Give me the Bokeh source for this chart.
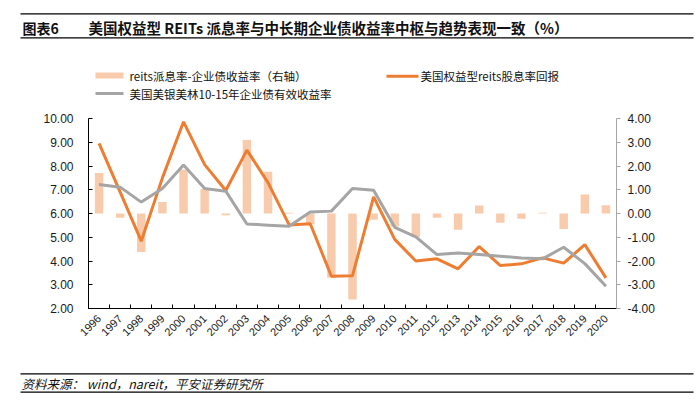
import math
from bokeh.plotting import figure
from bokeh.layouts import column
from bokeh.models import Range1d, LinearAxis, FixedTicker, NumeralTickFormatter, Label
from bokeh.embed import file_html
from bokeh.resources import INLINE

# ---------------- data ----------------
years = [str(y) for y in range(1996, 2021)]
reit_yield = [8.95, 6.90, 4.84, 7.50, 9.86, 8.06, 6.97, 8.67, 7.30, 5.52,
              5.57, 3.36, 3.38, 6.70, 4.91, 4.00, 4.09, 3.67, 4.61, 3.81,
              3.88, 4.13, 3.91, 4.69, 3.29]
corp_yield = [7.22, 7.11, 6.48, 7.05, 8.04, 7.05, 6.94, 5.56, 5.51, 5.46,
              6.06, 6.10, 7.05, 6.98, 5.42, 5.02, 4.27, 4.34, 4.27, 4.20,
              4.13, 4.09, 4.58, 3.89, 2.94]
spread = [1.71, -0.18, -1.62, 0.48, 1.85, 1.03, -0.07, 3.09, 1.76, 0.03,
          -0.45, -2.70, -3.62, -0.26, -0.55, -1.00, -0.18, -0.68, 0.34, -0.39,
          -0.22, 0.03, -0.65, 0.80, 0.35]
left_ticks = [2, 3, 4, 5, 6, 7, 8, 9, 10]
right_ticks = [-4, -3, -2, -1, 0, 1, 2, 3, 4]

title_tag = "图表6"
title_text = "美国权益型 REITs 派息率与中长期企业债收益率中枢与趋势表现一致（%）"
legend_labels = ["reits派息率-企业债收益率（右轴）", "美国权益型reits股息率回报",
                 "美国美银美林10-15年企业债有效收益率"]
source_text = "资料来源：  wind，nareit，平安证券研究所"

# ---------------- style ----------------
ORANGE = "#ED7D31"
BAR = "#F8CBAD"
GRAY = "#A5A5A5"
CJK = "Noto Sans CJK SC"
NUM = "Liberation Sans"
W = 700


def deco_fig(h):
    f = figure(width=W, height=h, output_backend="svg", toolbar_location=None,
               x_range=Range1d(0, W), y_range=Range1d(h, 0),
               x_axis_type=None, y_axis_type=None, min_border=0,
               frame_align=False)
    f.outline_line_color = None
    f.xgrid.visible = False
    f.ygrid.visible = False
    f.background_fill_color = "white"
    f.border_fill_color = "white"
    return f


def put(f, x, y, text, size, style="normal", font=CJK, color="#111111"):
    f.add_layout(Label(x=x, y=y, text=text, text_font=font, text_font_size=size,
                       text_font_style=style, text_color=color,
                       text_baseline="middle", text_align="left"))


# ---------------- header (title + legend) ----------------
top = deco_fig(105)
top.segment(x0=[20, 20], y0=[13.3, 37.3], x1=[693, 693], y1=[13.3, 37.3],
            line_color="black", line_width=1.3)
put(top, 22, 27, title_tag, "14px", style="bold")
put(top, 88, 27, title_text, "14.5px", style="bold")
top.quad(left=[95], right=[123], top=[72], bottom=[78], fill_color=BAR, line_color=None)
put(top, 129, 75, legend_labels[0], "11.5px")
top.segment(x0=[386], y0=[75.7], x1=[418], y1=[75.7], line_color=ORANGE, line_width=3)
put(top, 420, 75.7, legend_labels[1], "11.5px")
top.segment(x0=[95], y0=[93], x1=[123], y1=[93], line_color=GRAY, line_width=3)
put(top, 129, 93, legend_labels[2], "11.5px")

# ---------------- main chart ----------------
n = len(years)
xc = [i + 0.5 for i in range(n)]

p = figure(width=W, height=257, output_backend="svg", toolbar_location=None,
           x_range=Range1d(0, n), y_range=Range1d(2, 10),
           min_border_left=88, min_border_right=84, min_border_top=13,
           min_border_bottom=54, frame_align=False)
p.extra_y_ranges = {"right": Range1d(-4, 4)}
p.outline_line_color = None
p.xgrid.visible = False
p.ygrid.visible = False
p.background_fill_color = "white"
p.border_fill_color = "white"

p.vbar(x=xc, top=spread, bottom=0, width=0.4, y_range_name="right",
       fill_color=BAR, line_color=None)
p.line(xc, reit_yield, line_color=ORANGE, line_width=3)
p.line(xc, corp_yield, line_color=GRAY, line_width=3)

xa = p.xaxis[0]
xa.ticker = FixedTicker(ticks=xc, minor_ticks=list(range(n + 1)))
xa.major_label_overrides = {c: y for c, y in zip(xc, years)}
xa.major_tick_line_color = None
xa.major_tick_in = 0
xa.major_tick_out = 0
xa.minor_tick_in = 4
xa.minor_tick_out = 0
xa.minor_tick_line_color = "black"
xa.axis_line_color = "black"
xa.major_label_orientation = math.pi / 4
xa.major_label_standoff = 8
xa.major_label_text_font = NUM
xa.major_label_text_font_size = "11px"
xa.major_label_text_color = "#1a1a1a"

ya = p.yaxis[0]
ya.ticker = FixedTicker(ticks=left_ticks, minor_ticks=[])
ya.formatter = NumeralTickFormatter(format="0.00")
ya.major_tick_in = 4
ya.major_tick_out = 0
ya.minor_tick_line_color = None
ya.axis_line_color = "black"
ya.major_tick_line_color = "black"
ya.major_label_standoff = 15
ya.major_label_text_font = NUM
ya.major_label_text_font_size = "12px"
ya.major_label_text_color = "#1a1a1a"

ra = LinearAxis(y_range_name="right",
                ticker=FixedTicker(ticks=right_ticks, minor_ticks=[]),
                formatter=NumeralTickFormatter(format="0.00"))
ra.major_tick_in = 0
ra.major_tick_out = 4
ra.minor_tick_line_color = None
ra.axis_line_color = "#A6A6A6"
ra.major_tick_line_color = "#A6A6A6"
ra.major_label_standoff = 7
ra.major_label_text_font = NUM
ra.major_label_text_font_size = "12px"
ra.major_label_text_color = "#1a1a1a"
p.add_layout(ra, "right")

# ---------------- footer ----------------
bot = deco_fig(39)
bot.segment(x0=[20, 20], y0=[11.3, 29.7], x1=[693, 693], y1=[11.3, 29.7],
            line_color="black", line_width=1.3)
put(bot, 21, 21, source_text, "12.5px", style="italic")

layout = column(top, p, bot, spacing=0)
open("out.html", "w").write(file_html(layout, INLINE))
